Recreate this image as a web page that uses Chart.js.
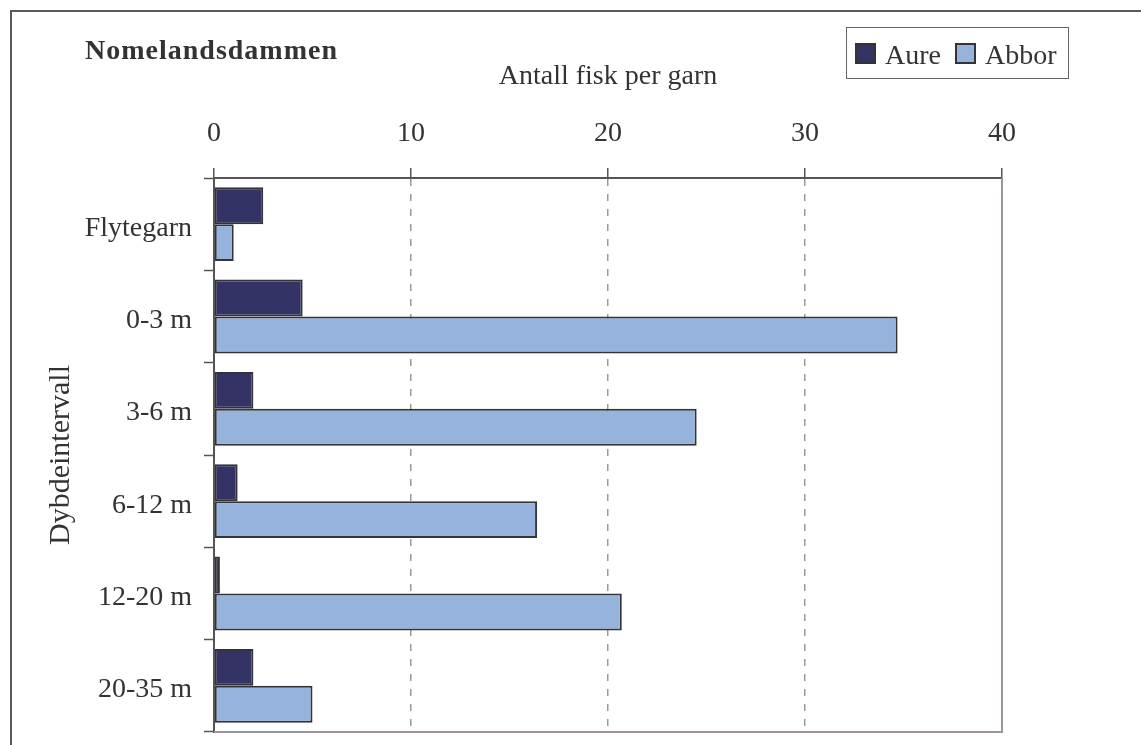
<!DOCTYPE html>
<html>
<head>
<meta charset="utf-8">
<title>Nomelandsdammen</title>
<script src="https://cdn.jsdelivr.net/npm/chart.js@4/dist/chart.umd.min.js"></script>
<style>
  html, body { margin: 0; padding: 0; background: #ffffff; }
  #wrap { width: 1141px; height: 745px; }
</style>
</head>
<body>
<div id="wrap"><canvas id="c" width="1141" height="745"></canvas></div>
<script>
// Gill-net catch per depth interval
const categories = ['Flytegarn', '0-3 m', '3-6 m', '6-12 m', '12-20 m', '20-35 m'];
const aure = [2.5, 4.5, 2.0, 1.2, 0.3, 2.0];
const abbor = [1.0, 34.7, 24.5, 16.4, 20.7, 5.0];
const xTicks = [0, 10, 20, 30, 40];
const seriesNames = ['Aure', 'Abbor'];
const chartTitle = 'Nomelandsdammen';
const xTitle = 'Antall fisk per garn';
const yTitle = 'Dybdeintervall';

const FONT = "'Liberation Serif', 'Times New Roman', serif";
const TEXT = '#333333';
const AXIS = '#555555';

// Outer frame, plot frame, chart title and boxed legend
const decorations = {
  id: 'decorations',
  beforeDraw(chart) {
    const ctx = chart.ctx;
    ctx.save();
    ctx.strokeStyle = '#5a5a5a';
    ctx.lineWidth = 2;
    ctx.beginPath();
    ctx.moveTo(11, 760);
    ctx.lineTo(11, 11);
    ctx.lineTo(1160, 11);
    ctx.stroke();
    ctx.restore();
  },
  afterDraw(chart) {
    const ctx = chart.ctx;
    const a = chart.chartArea;
    ctx.save();
    // right and bottom edges of the plot
    ctx.strokeStyle = '#a09494';
    ctx.lineWidth = 2;
    ctx.beginPath();
    ctx.moveTo(a.left, a.bottom);
    ctx.lineTo(a.right, a.bottom);
    ctx.lineTo(a.right, a.top);
    ctx.stroke();

    // title
    ctx.fillStyle = TEXT;
    ctx.font = 'bold 28px ' + FONT;
    ctx.letterSpacing = '1px';
    ctx.textBaseline = 'alphabetic';
    ctx.textAlign = 'left';
    ctx.fillText(chartTitle, 85, 59);
    ctx.letterSpacing = '0px';

    // legend box
    ctx.strokeStyle = '#666666';
    ctx.lineWidth = 1;
    ctx.strokeRect(846.5, 27.5, 222, 51);
    const items = chart.data.datasets;
    const xs = [856, 956];
    ctx.font = '28px ' + FONT;
    items.forEach((ds, i) => {
      ctx.fillStyle = ds.backgroundColor;
      ctx.fillRect(xs[i], 44, 19, 19);
      ctx.strokeStyle = '#333333';
      ctx.lineWidth = 2;
      ctx.strokeRect(xs[i], 44, 19, 19);
      ctx.fillStyle = TEXT;
      ctx.fillText(ds.label, xs[i] + 29, 64);
    });
    ctx.restore();
  }
};

new Chart(document.getElementById('c'), {
  type: 'bar',
  data: {
    labels: categories,
    datasets: [
      {
        label: seriesNames[0],
        data: aure,
        backgroundColor: '#333366',
        borderColor: '#333339',
        borderWidth: 2,
        borderSkipped: false
      },
      {
        label: seriesNames[1],
        data: abbor,
        backgroundColor: '#95b3dd',
        borderColor: '#333339',
        borderWidth: 2,
        borderSkipped: false
      }
    ]
  },
  options: {
    indexAxis: 'y',
    responsive: false,
    animation: false,
    devicePixelRatio: 1,
    layout: { padding: { left: 10, top: 50, right: 139, bottom: 13 } },
    datasets: { bar: { categoryPercentage: 0.8, barPercentage: 1.0 } },
    plugins: {
      legend: { display: false },
      title: { display: false },
      tooltip: { enabled: false }
    },
    scales: {
      x: {
        type: 'linear',
        position: 'top',
        min: 0,
        max: 40,
        afterBuildTicks(scale) { scale.ticks = xTicks.map(v => ({ value: v })); },
        afterFit(scale) { scale.height = 128; },
        ticks: {
          color: TEXT,
          font: { family: FONT, size: 28 },
          padding: 18
        },
        grid: {
          drawOnChartArea: true,
          drawTicks: true,
          tickLength: 10,
          tickColor: AXIS,
          tickWidth: 1.5,
          lineWidth: 1.5,
          color: (c) => (c.tick && (c.tick.value === 0 || c.tick.value === 40)) ? 'rgba(0,0,0,0)' : '#9a9a9a'
        },
        border: { display: true, color: AXIS, width: 2, dash: [7, 8] },
        title: {
          display: true,
          text: xTitle,
          color: TEXT,
          font: { family: FONT, size: 28 },
          padding: { top: 10, bottom: 0 }
        }
      },
      y: {
        type: 'category',
        offset: true,
        afterFit(scale) {
          scale.width = 204;
          scale.paddingTop = 0;
          scale.paddingBottom = 0;
        },
        ticks: {
          color: TEXT,
          font: { family: FONT, size: 28 },
          padding: 12,
          labelOffset: 4
        },
        grid: {
          offset: true,
          drawOnChartArea: false,
          drawTicks: true,
          tickLength: 10,
          tickColor: AXIS,
          tickWidth: 1.5
        },
        border: { display: true, color: AXIS, width: 2 },
        title: {
          display: true,
          text: yTitle,
          color: TEXT,
          font: { family: FONT, size: 30 },
          padding: { top: 33, bottom: 0 }
        }
      }
    }
  },
  plugins: [decorations]
});
</script>
</body>
</html>
